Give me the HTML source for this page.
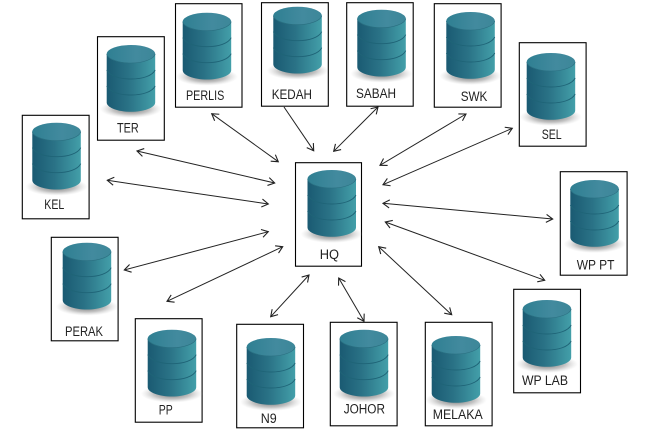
<!DOCTYPE html>
<html><head><meta charset="utf-8"><style>
html,body{margin:0;padding:0;background:#fff;width:646px;height:436px;overflow:hidden}
svg{display:block}
text{font-family:"Liberation Sans",sans-serif;font-size:13.5px;fill:#222}
</style></head><body>
<svg width="646" height="436" viewBox="0 0 646 436" xmlns="http://www.w3.org/2000/svg">
<defs>
<linearGradient id="b" x1="0" x2="1" y1="0" y2="0">
<stop offset="0" stop-color="#1a5a72"/><stop offset=".45" stop-color="#2a7286"/><stop offset="1" stop-color="#439fa9"/>
</linearGradient>
<linearGradient id="t" x1="0" x2="1" y1="0" y2="0">
<stop offset="0" stop-color="#2f7f92"/><stop offset=".6" stop-color="#428a9e"/><stop offset="1" stop-color="#3d8799"/>
</linearGradient>
<radialGradient id="s" cx=".5" cy=".5" r=".5">
<stop offset="0" stop-color="#666"/><stop offset=".6" stop-color="#aaa" stop-opacity=".7"/><stop offset="1" stop-color="#ccc" stop-opacity="0"/>
</radialGradient>
<marker id="a" markerUnits="userSpaceOnUse" markerWidth="14" markerHeight="14" refX="9" refY="6" orient="auto-start-reverse">
<path d="M2.5 2L9 6L2.5 10" fill="none" stroke="#222" stroke-width="1.1"/>
</marker>
<g id="c">
<ellipse cx="24.25" cy="64" rx="31" ry="9" fill="url(#s)"/>
<path d="M0 9V57.5C0 62.5 11 66.8 24.25 66.8S48.5 62.5 48.5 57.5V9Z" fill="url(#b)"/>
<path d="M0 25C3 31 13 34 24.25 34S45.5 31 48.5 25M0 41C3 47 13 50 24.25 50S45.5 47 48.5 41" fill="none" stroke="#1f6477" stroke-width=".9"/>
<ellipse cx="24.25" cy="9" rx="24.25" ry="9" fill="url(#t)"/>
<path d="M0 9C1 14 12 18 24.25 18S47.5 14 48.5 9" fill="none" stroke="#2a6f80" stroke-width=".6"/>
</g>
</defs>
<g fill="#fff" stroke="#000" stroke-width="1.1">
<rect x="295.500" y="162.700" width="66" height="103.500"/>
<rect x="97.500" y="36.700" width="66.800" height="103.500"/>
<rect x="175.500" y="3.700" width="66.500" height="103.500"/>
<rect x="261.500" y="2.700" width="66.800" height="103.500"/>
<rect x="346.700" y="2.700" width="66.500" height="103.500"/>
<rect x="434.300" y="3.700" width="66.800" height="103.500"/>
<rect x="519.300" y="42.700" width="66.800" height="103.500"/>
<rect x="560.300" y="171.700" width="66.800" height="103.500"/>
<rect x="513.700" y="289.300" width="66.800" height="103.500"/>
<rect x="425.300" y="322.300" width="66.800" height="103.500"/>
<rect x="330.300" y="322.300" width="66.800" height="103.500"/>
<rect x="236.700" y="324.300" width="66.800" height="103.500"/>
<rect x="135.300" y="318.700" width="66.800" height="103.500"/>
<rect x="51.300" y="237.300" width="66.800" height="103.500"/>
<rect x="22.300" y="115.300" width="66.800" height="103.500"/>
</g>
<use href="#c" x="307.500" y="170"/>
<use href="#c" x="106.700" y="45"/>
<use href="#c" x="182.700" y="12.700"/>
<use href="#c" x="273.300" y="6.700"/>
<use href="#c" x="357.300" y="9.700"/>
<use href="#c" x="446.300" y="12"/>
<use href="#c" x="526.700" y="53"/>
<use href="#c" x="570.300" y="180"/>
<use href="#c" x="522.700" y="300"/>
<use href="#c" x="431.700" y="336"/>
<use href="#c" x="339.700" y="329.700"/>
<use href="#c" x="246.700" y="338"/>
<use href="#c" x="147.700" y="329.700"/>
<use href="#c" x="62.700" y="242.700"/>
<use href="#c" x="32.300" y="122.700"/>
<g stroke="#222" stroke-width="1" fill="none" marker-start="url(#a)" marker-end="url(#a)">
<path d="M211.700 113.700L278.300 161.700"/>
<path d="M137 151L274.700 183"/>
<path d="M107.300 180.300L268.300 204"/>
<path d="M124.300 270L268.300 231.700"/>
<path d="M167 301.300L282.700 246.700"/>
<path d="M270.700 316.700L309 275"/>
<path d="M338.700 278L364 321.300"/>
<path d="M378.700 246.700L451.700 314.700"/>
<path d="M385.300 222L544.700 280.300"/>
<path d="M383 203.300L552.700 219"/>
<path d="M383 184.700L512.300 128.300"/>
<path d="M380 165.300L466 114"/>
<path d="M333.700 151.300L378 107"/>
</g>
<path d="M284 107L313.700 150.700" stroke="#222" stroke-width="1" fill="none" marker-end="url(#a)"/>
<g>
<text x="319.700" y="259" textLength="19.300" lengthAdjust="spacingAndGlyphs">HQ</text>
<text x="117" y="132.700" textLength="21.700" lengthAdjust="spacingAndGlyphs">TER</text>
<text x="186" y="100" textLength="38.300" lengthAdjust="spacingAndGlyphs">PERLIS</text>
<text x="271.700" y="99" textLength="40.300" lengthAdjust="spacingAndGlyphs">KEDAH</text>
<text x="356" y="98" textLength="40" lengthAdjust="spacingAndGlyphs">SABAH</text>
<text x="460.700" y="101" textLength="26.700" lengthAdjust="spacingAndGlyphs">SWK</text>
<text x="541.700" y="139" textLength="20" lengthAdjust="spacingAndGlyphs">SEL</text>
<text x="576.700" y="269.700" textLength="37.700" lengthAdjust="spacingAndGlyphs">WP PT</text>
<text x="522" y="385" textLength="46" lengthAdjust="spacingAndGlyphs">WP LAB</text>
<text x="432.700" y="419" textLength="50" lengthAdjust="spacingAndGlyphs">MELAKA</text>
<text x="343.700" y="413.700" textLength="41.300" lengthAdjust="spacingAndGlyphs">JOHOR</text>
<text x="260.700" y="423" textLength="16" lengthAdjust="spacingAndGlyphs">N9</text>
<text x="158.700" y="414.700" textLength="14" lengthAdjust="spacingAndGlyphs">PP</text>
<text x="65" y="336" textLength="38" lengthAdjust="spacingAndGlyphs">PERAK</text>
<text x="44.300" y="209" textLength="20" lengthAdjust="spacingAndGlyphs">KEL</text>
</g>
</svg>
</body></html>
